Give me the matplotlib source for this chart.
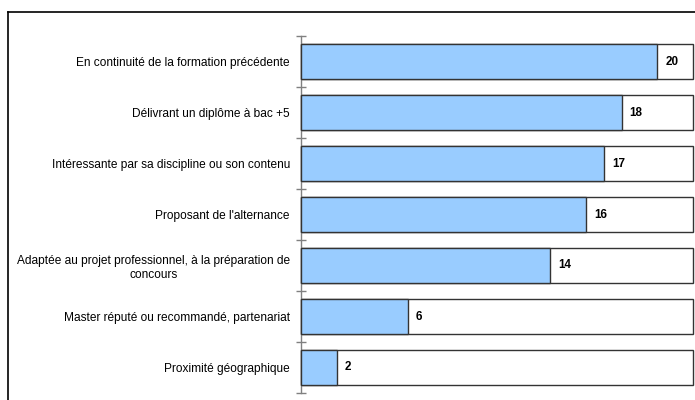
import matplotlib
matplotlib.use("Agg")
import matplotlib.pyplot as plt
from matplotlib.lines import Line2D

categories = [
    "En continuité de la formation précédente",
    "Délivrant un diplôme à bac +5",
    "Intéressante par sa discipline ou son contenu",
    "Proposant de l'alternance",
    "Adaptée au projet professionnel, à la préparation de\nconcours",
    "Master réputé ou recommandé, partenariat",
    "Proximité géographique",
]
values = [20, 18, 17, 16, 14, 6, 2]
total = 22

plt.rcParams['font.family'] = ['Liberation Sans', 'DejaVu Sans']

fig = plt.figure(figsize=(6.95, 4.0), dpi=100)
fig.patch.set_facecolor('white')

# page frame
fig.add_artist(Line2D([8/695, 1.0], [1-12/400, 1-12/400], transform=fig.transFigure,
                      color='black', lw=1.2))
fig.add_artist(Line2D([8/695, 8/695], [0, 1-12/400], transform=fig.transFigure,
                      color='black', lw=1.2))

ax = fig.add_axes([301/695, 1-393/400, 392/695, 357/400])
n = len(categories)
ypos = list(range(n))
h = 0.667
ax.barh(ypos, [total]*n, height=h, color='white', edgecolor='#333333', linewidth=1.0,
        zorder=2, clip_on=False)
ax.barh(ypos, values, height=h, color='#99CCFF', edgecolor='#333333', linewidth=1.0,
        zorder=3, clip_on=False)
for y, v in zip(ypos, values):
    ax.text(v + 0.45, y, str(v), va='center', ha='left', fontsize=8.4, fontweight='bold', zorder=4)

ax.set_xlim(0, total)
ax.set_ylim(n - 0.5, -0.5)
ax.set_xticks([])
ax.set_yticks([i - 0.5 for i in range(n + 1)])
ax.set_yticklabels([])
ax.set_yticks(ypos, minor=True)
ax.set_yticklabels(categories, minor=True, fontsize=8.6, multialignment='center')
ax.tick_params(axis='y', which='minor', length=0, pad=8)
ax.tick_params(axis='y', which='major', length=7, direction='inout', color='#808080', width=1)
for s in ['top', 'right', 'bottom']:
    ax.spines[s].set_visible(False)
ax.spines['left'].set_color('#808080')
ax.spines['left'].set_linewidth(1)

fig.savefig('out.png', dpi=100)
